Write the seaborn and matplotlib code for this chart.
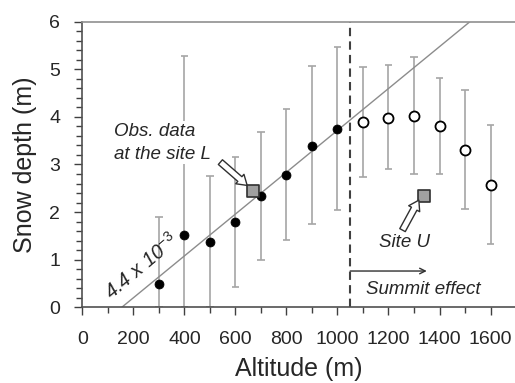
import numpy as np
import pandas as pd
import seaborn as sns
import matplotlib.pyplot as plt
from matplotlib.ticker import MultipleLocator

# Observed snow depth below the summit-effect limit (filled) and above it (open)
alt_low = [300, 400, 500, 600, 700, 800, 900, 1000]
depth_low = [0.49, 1.51, 1.37, 1.79, 2.33, 2.77, 3.39, 3.75]
err_lo_low = [0.0, 0.0, 0.0, 0.43, 1.0, 1.41, 1.74, 2.04]
err_hi_low = [1.90, 5.29, 2.75, 3.16, 3.68, 4.16, 5.07, 5.48]

alt_high = [1100, 1200, 1300, 1400, 1500, 1600]
depth_high = [3.89, 3.98, 4.03, 3.80, 3.30, 2.56]
err_lo_high = [2.74, 2.91, 2.81, 2.81, 2.07, 1.32]
err_hi_high = [5.05, 5.09, 5.26, 4.82, 4.57, 3.84]

# Sites L and U
site_alt = [668, 1340]
site_depth = [2.44, 2.34]

# regression line: slope 4.4e-3, crosses zero near 155 m
slope = 4.4e-3
x_zero = 155
summit_alt = 1050

sns.set_style("ticks")
plt.rcParams['font.family'] = ['Liberation Sans', 'DejaVu Sans']
plt.rcParams['mathtext.fontset'] = 'custom'
plt.rcParams['mathtext.rm'] = 'Liberation Sans'
plt.rcParams['mathtext.it'] = 'Liberation Sans:italic'

fig = plt.figure(figsize=(5.15, 3.83), dpi=100)
ax = fig.add_axes([0.16, 0.198, 0.842, 0.745])

grey = '#a6a6a6'
cap = 15
for alt, lo, hi in [(alt_low, err_lo_low, err_hi_low), (alt_high, err_lo_high, err_hi_high)]:
    alt = np.array(alt)
    ax.vlines(alt, lo, hi, color=grey, lw=1.2, zorder=1)
    ax.hlines(lo, alt - cap, alt + cap, color=grey, lw=1.2, zorder=1)
    ax.hlines(hi, alt - cap, alt + cap, color=grey, lw=1.2, zorder=1)

xs = np.array([x_zero, 6 / slope + x_zero])
ax.plot(xs, slope * (xs - x_zero), color='#8c8c8c', lw=1.0, zorder=2)

ax.axvline(summit_alt, color='#404040', lw=1.5, ls=(0, (4, 2.5)), zorder=2)

low = pd.DataFrame({'alt': alt_low, 'depth': depth_low})
high = pd.DataFrame({'alt': alt_high, 'depth': depth_high})
sites = pd.DataFrame({'alt': site_alt, 'depth': site_depth})
sns.scatterplot(data=low, x='alt', y='depth', ax=ax, color='black', s=42,
                edgecolor='black', zorder=4)
sns.scatterplot(data=high, x='alt', y='depth', ax=ax, color='white', s=52,
                edgecolor='black', linewidth=1.3, zorder=4)
sns.scatterplot(data=sites, x='alt', y='depth', ax=ax, color='#a0a0a0', marker='s',
                s=65, edgecolor='#303030', linewidth=1.2, zorder=5)

ax.text(125, 3.46, 'Obs. data\nat the site L', style='italic', fontsize=13.5,
        ha='left', va='center', linespacing=1.45, zorder=3,
        bbox=dict(fc='white', ec='none', pad=1))
arrow = dict(arrowstyle='simple,head_length=0.7,head_width=0.9,tail_width=0.45',
             fc='white', ec='#303030', lw=1.0, shrinkA=0, shrinkB=0)
ax.annotate('', xy=(646, 2.56), xytext=(541, 3.05), arrowprops=arrow, zorder=6)
ax.annotate('', xy=(1319, 2.25), xytext=(1255, 1.62), arrowprops=arrow, zorder=6)
ax.text(1264, 1.37, 'Site U', style='italic', fontsize=13.5, ha='center', va='center')

ax.annotate('', xy=(1350, 0.76), xytext=(summit_alt, 0.76),
            arrowprops=dict(arrowstyle='->', color='#303030', lw=1.0, shrinkA=0, shrinkB=0))
ax.text(1338, 0.38, 'Summit effect', style='italic', fontsize=13.5, ha='center', va='center')

ax.text(232, 0.86, r'4.4 x 10$^{-3}$', style='italic', fontsize=14.5, rotation=40,
        ha='center', va='center', rotation_mode='anchor')

ax.set_xlim(0, 1700)
ax.set_ylim(0, 6)
ax.set_xticks(range(0, 1601, 200))
ax.xaxis.set_minor_locator(MultipleLocator(100))
ax.yaxis.set_major_locator(MultipleLocator(1))
ax.yaxis.set_minor_locator(MultipleLocator(0.2))
ax.tick_params(which='both', direction='out', color='#404040', labelsize=14)
ax.tick_params(which='major', length=6, width=1)
ax.tick_params(which='minor', length=4, width=1)
ax.tick_params(axis='y', pad=10)
ax.tick_params(axis='x', pad=11)
for s in ax.spines.values():
    s.set_color('#505050')
    s.set_linewidth(1.2)
ax.spines['top'].set_color('#909090')

ax.set_xlabel('Altitude (m)', fontsize=18, labelpad=7)
ax.set_ylabel('Snow depth (m)', fontsize=18, labelpad=9)

fig.savefig('out.png', dpi=100)
